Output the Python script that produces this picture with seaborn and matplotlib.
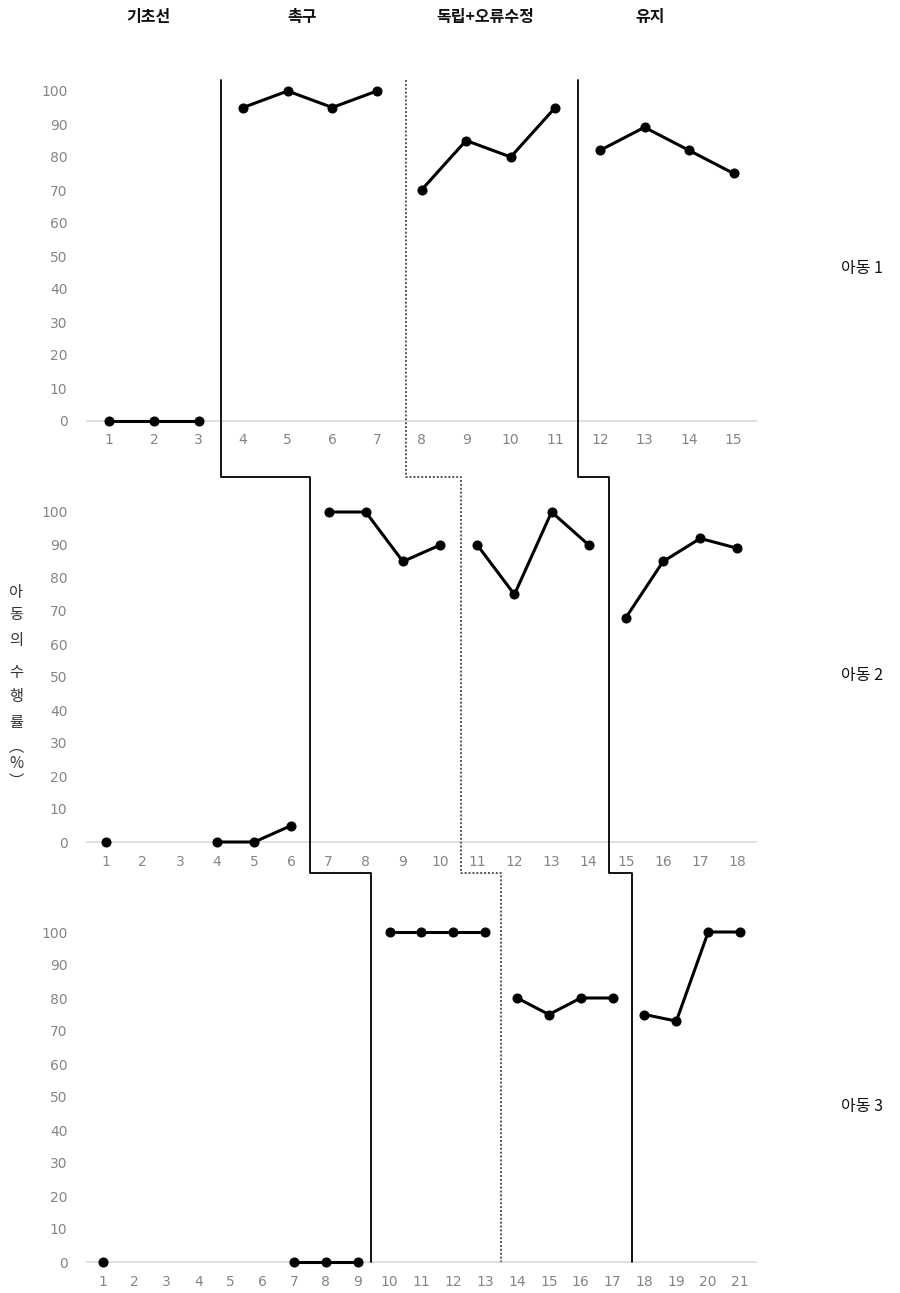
import numpy as np
import pandas as pd
import matplotlib.pyplot as plt
import seaborn as sns
from matplotlib.lines import Line2D

sns.set_theme(style="white")
plt.rcParams['font.family'] = ['Noto Sans CJK KR', 'DejaVu Sans']

phase_names = ['기초선', '촉구', '독립+오류수정', '유지']
child_names = ['아동 1', '아동 2', '아동 3']
nan = np.nan

# values (nan = no probe that session)
child1_vals = [0, 0, 0, 95, 100, 95, 100, 70, 85, 80, 95, 82, 89, 82, 75]
child1_phase = [0, 0, 0, 1, 1, 1, 1, 2, 2, 2, 2, 3, 3, 3, 3]
child2_vals = [0, nan, nan, 0, 0, 5, 100, 100, 85, 90, 90, 75, 100, 90, 68, 85, 92, 89]
child2_phase = [0, 0, 0, 0, 0, 0, 1, 1, 1, 1, 2, 2, 2, 2, 3, 3, 3, 3]
child3_vals = [0, nan, nan, nan, nan, nan, 0, 0, 0, 100, 100, 100, 100, 80, 75, 80, 80, 75, 73, 100, 100]
child3_phase = [0, 0, 0, 0, 0, 0, 0, 0, 0, 1, 1, 1, 1, 2, 2, 2, 2, 3, 3, 3, 3]

# where the phase-change lines cross each panel (solid, dotted, solid)
boundaries = [[3.5, 7.65, 11.5], [6.5, 10.55, 14.55], [9.4, 13.5, 17.6]]

W, H = 900, 1293
fig = plt.figure(figsize=(W / 100, H / 100), dpi=100)

def make_df(vals, phases):
    df = pd.DataFrame({'session': np.arange(1, len(vals) + 1), 'value': vals, 'phase': phases})
    seg = 0
    segs = []
    prev_phase, prev_nan = phases[0], False
    for v, p in zip(vals, phases):
        if p != prev_phase or prev_nan:
            seg += 1
        segs.append(seg)
        prev_phase, prev_nan = p, np.isnan(v)
    df['seg'] = segs
    return df.dropna()

panel_bottoms = [421, 842, 1262]
data = [(child1_vals, child1_phase), (child2_vals, child2_phase), (child3_vals, child3_phase)]
axes = []
for i, (vals, phases) in enumerate(data):
    ax = fig.add_axes([87 / W, 1 - panel_bottoms[i] / H, 669 / W, 330 / H])
    df = make_df(vals, phases)
    sns.lineplot(data=df, x='session', y='value', units='seg', estimator=None,
                 color='black', lw=2.2, marker='o', markersize=6.5,
                 markeredgecolor='black', ax=ax, legend=False)
    for ln in ax.lines:
        ln.set_clip_on(False)
        ln.set_zorder(4)
    n = len(vals)
    ax.set_xlim(0.5, n + 0.5)
    ax.set_ylim(0, 100)
    ax.set_xticks(range(1, n + 1))
    ax.set_yticks(range(0, 101, 10))
    ax.set_xlabel('')
    ax.set_ylabel('')
    for s in ['top', 'right', 'left']:
        ax.spines[s].set_visible(False)
    ax.spines['bottom'].set_color('#d9d9d9')
    ax.spines['bottom'].set_linewidth(1.2)
    ax.spines['bottom'].set_zorder(1)
    ax.tick_params(axis='both', length=0, colors='#858585', labelsize=10)
    ax.tick_params(axis='y', pad=14)
    ax.tick_params(axis='x', pad=9)
    for lab in ax.get_xticklabels() + ax.get_yticklabels():
        lab.set_fontfamily('DejaVu Sans')
    ax.set_facecolor('none')
    axes.append(ax)

inv = fig.transFigure.inverted()
def fx(ax, x):
    return inv.transform(ax.transData.transform((x, 0)))[0]

ys_px = [80, 477, 477, 873, 873, 1262]
ys = [1 - y / H for y in ys_px]
styles = [dict(color='black', lw=1.3, ls='-'),
          dict(color='#555555', lw=1.4, ls=(0, (1, 1))),
          dict(color='black', lw=1.3, ls='-')]
for k in range(3):
    b = [boundaries[p][k] for p in range(3)]
    xs = [fx(axes[0], b[0]), fx(axes[0], b[0]), fx(axes[1], b[1]),
          fx(axes[1], b[1]), fx(axes[2], b[2]), fx(axes[2], b[2])]
    fig.add_artist(Line2D(xs, ys, transform=fig.transFigure, **styles[k]))

# phase titles
for name, x in zip(phase_names, [148, 302, 485, 650]):
    fig.text(x / W, 1 - 17 / H, name, ha='center', va='center',
             fontsize=11.5, fontweight='bold', color='#111111')

# child labels
for name, y in zip(child_names, [268, 675, 1107]):
    fig.text(862 / W, 1 - y / H, name, ha='center', va='center',
             fontsize=11.5, color='#111111')

# stacked (vertical) y label
ylab_chars = ['아', '동', '의', '수', '행', '률', '︵', '%', '︶']
ylab_y = [592, 615, 640, 672, 697, 722, 747, 764, 781]
for ch, y in zip(ylab_chars, ylab_y):
    fig.text(16 / W, 1 - y / H, ch, ha='center', va='center',
             fontsize=11, color='#333333')

fig.savefig('out.png', dpi=100)
